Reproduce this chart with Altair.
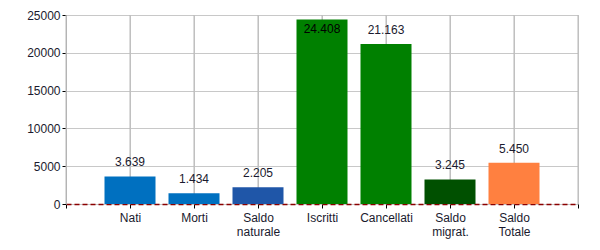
import altair as alt
import pandas as pd

categories = ["Nati", "Morti", "Saldo naturale", "Iscritti", "Cancellati", "Saldo migrat.", "Saldo Totale"]
values = [3639, 1434, 2205, 24408, 21163, 3245, 5450]
colors = ["#0070C0", "#0070C0", "#1F56A8", "#008000", "#008000", "#005000", "#FF8040"]
labels = ["3.639", "1.434", "2.205", "24.408", "21.163", "3.245", "5.450"]
positions = [1, 2, 3, 4, 5, 6, 7]
y_ticks = [0, 5000, 10000, 15000, 20000, 25000]
x_ticks = [0, 1, 2, 3, 4, 5, 6, 7, 8]

df = pd.DataFrame({"cat": categories, "v": values, "color": colors, "label": labels, "pos": positions})
grid_df = pd.DataFrame({"pos": x_ticks, "lo": [0] * len(x_ticks), "hi": [25000] * len(x_ticks)})

label_expr = ("datum.value==1?'Nati':datum.value==2?'Morti':datum.value==3?['Saldo','naturale']:"
              "datum.value==4?'Iscritti':datum.value==5?'Cancellati':datum.value==6?['Saldo','migrat.']:"
              "datum.value==7?['Saldo','Totale']:''")

FONT = "Liberation Sans"

x_axis = alt.Axis(values=x_ticks, labelExpr=label_expr, title=None, grid=True,
                  domain=True, domainColor="#8B0000", domainDash=[5, 3], domainWidth=1.5,
                  labelPadding=4, labelLineHeight=14, labelOverlap=False)
y_axis = alt.Axis(values=y_ticks, format="d", title=None, grid=True, domainColor="#B0B0B0",
                  labelPadding=2, labelOverlap=False)
x_scale = alt.Scale(domain=[0, 8], nice=False, zero=False, padding=0)
y_scale = alt.Scale(domain=[0, 25000], nice=False)

x = alt.X("pos:Q", scale=x_scale, axis=x_axis)
y = alt.Y("v:Q", scale=y_scale, axis=y_axis)

vgrid = alt.Chart(grid_df).mark_rule(color="#B8B8B8", strokeWidth=1).encode(
    x=x,
    y=alt.Y("lo:Q", scale=y_scale, axis=y_axis),
    y2="hi:Q",
)

base = alt.Chart(df).encode(x=x, y=y)
bars = base.mark_bar(size=51).encode(color=alt.Color("color:N", scale=None))
txt_out = base.transform_filter("datum.v < 22000").mark_text(
    baseline="bottom", dy=-7, font=FONT, fontSize=12, color="#1a1a2e").encode(text="label:N")
txt_in = base.transform_filter("datum.v >= 22000").mark_text(
    baseline="top", dy=5, font=FONT, fontSize=12, color="#000000").encode(text="label:N")

chart = alt.layer(vgrid, bars, txt_out, txt_in).properties(
    width=512, height=189,
    autosize=alt.AutoSizeParams(type="none"),
    padding={"left": 66, "top": 15, "right": 22, "bottom": 46},
    background="white",
).configure_view(stroke="#C8C8C8").configure_axis(
    gridColor="#C8C8C8", tickColor="#000000", tickSize=4,
    labelFont=FONT, labelFontSize=12, labelColor="#1a1a2e",
)

chart.save("out.html", embed_options={"renderer": "svg", "actions": False})
